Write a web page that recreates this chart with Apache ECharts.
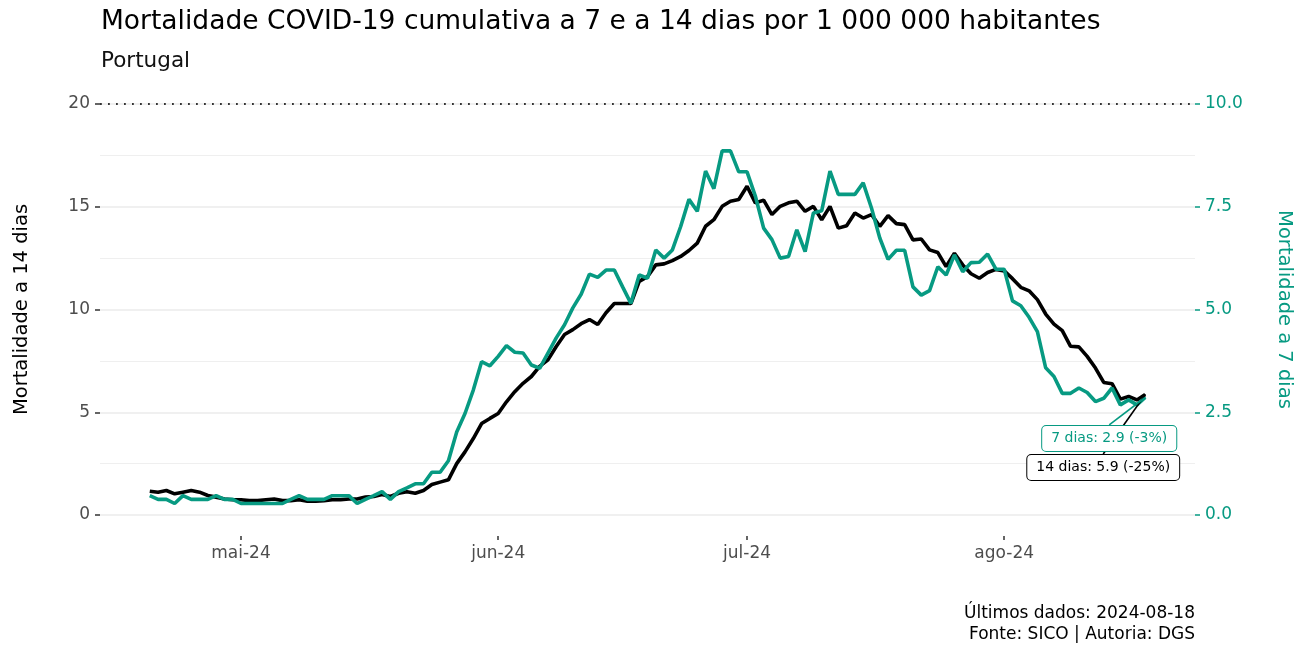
<!DOCTYPE html>
<html>
<head>
<meta charset="utf-8">
<script src="https://cdn.jsdelivr.net/npm/echarts@6/dist/echarts.min.js"></script>
<style>
  html, body { margin: 0; padding: 0; background: #fff; }
  #chart { width: 1311px; height: 649px; }
</style>
</head>
<body>
<div id="chart"></div>
<script>
// first day of data and first/last visible day of the axis
const startDay = '2024-04-20'
const axisMinDay = '2024-04-14'
const axisMaxDay = '2024-08-24'

// month ticks
const monthTicks = ['2024-05-01', '2024-06-01', '2024-07-01', '2024-08-01']
const monthLabels = ['mai-24', 'jun-24', 'jul-24', 'ago-24']

// 14 day cumulative mortality per 1 000 000 (left axis)
const mort14 = [
  1.16, 1.11, 1.19, 1.03, 1.11, 1.19, 1.11, 0.95, 0.87, 0.78,
  0.74, 0.74, 0.70, 0.70, 0.74, 0.78, 0.70, 0.70, 0.74, 0.67,
  0.67, 0.70, 0.74, 0.74, 0.78, 0.78, 0.87, 0.90, 1.00, 0.90,
  1.06, 1.13, 1.06, 1.19, 1.48, 1.60, 1.71, 2.50, 3.07, 3.72,
  4.45, 4.70, 4.94, 5.51, 6.00, 6.41, 6.74, 7.23, 7.55, 8.20,
  8.78, 9.02, 9.31, 9.51, 9.27, 9.84, 10.29, 10.29, 10.29, 11.37,
  11.60, 12.17, 12.22, 12.38, 12.58, 12.87, 13.23, 14.05, 14.37, 15.02,
  15.27, 15.35, 16.00, 15.19, 15.32, 14.62, 15.02, 15.19, 15.27, 14.78,
  15.02, 14.37, 15.02, 13.96, 14.08, 14.70, 14.45, 14.62, 14.05, 14.57,
  14.18, 14.13, 13.39, 13.43, 12.90, 12.77, 12.09, 12.74, 12.17, 11.74,
  11.52, 11.80, 11.95, 11.88, 11.50, 11.08, 10.91, 10.48, 9.78, 9.29,
  8.97, 8.21, 8.18, 7.72, 7.15, 6.45, 6.39, 5.64, 5.77, 5.60,
  5.86
]

// 7 day cumulative mortality per 1 000 000 (right axis)
const mort7 = [
  0.47, 0.38, 0.38, 0.28, 0.47, 0.38, 0.38, 0.38, 0.47, 0.38,
  0.38, 0.28, 0.28, 0.28, 0.28, 0.28, 0.28, 0.38, 0.47, 0.38,
  0.38, 0.38, 0.47, 0.47, 0.47, 0.28, 0.38, 0.47, 0.57, 0.38,
  0.57, 0.66, 0.76, 0.76, 1.04, 1.04, 1.32, 2.02, 2.47, 3.04,
  3.73, 3.63, 3.86, 4.12, 3.96, 3.94, 3.65, 3.57, 3.94, 4.31,
  4.63, 5.04, 5.37, 5.86, 5.78, 5.96, 5.96, 5.55, 5.15, 5.84,
  5.76, 6.45, 6.25, 6.45, 7.02, 7.68, 7.39, 8.37, 7.94, 8.86,
  8.86, 8.35, 8.35, 7.76, 6.98, 6.70, 6.25, 6.29, 6.94, 6.41,
  7.35, 7.40, 8.37, 7.80, 7.80, 7.80, 8.08, 7.47, 6.74, 6.22,
  6.44, 6.44, 5.55, 5.35, 5.46, 6.04, 5.84, 6.33, 5.92, 6.14,
  6.15, 6.35, 5.98, 5.98, 5.21, 5.09, 4.81, 4.46, 3.58, 3.37,
  2.96, 2.96, 3.09, 2.98, 2.76, 2.84, 3.09, 2.68, 2.80, 2.68,
  2.86
]

const endLabels = ['14 dias: 5.9 (-25%)', '7 dias: 2.9 (-3%)']

const titleText = 'Mortalidade COVID-19 cumulativa a 7 e a 14 dias por 1 000 000 habitantes'
const subtitleText = 'Portugal'
const captionText = 'Últimos dados: 2024-08-18\nFonte: SICO | Autoria: DGS'

const teal = '#079a82'
const font = 'DejaVu Sans'
const DAY = 86400000

function ts(s) {
  const p = s.split('-')
  return Date.UTC(+p[0], +p[1] - 1, +p[2])
}

const t0 = ts(startDay)
const data14 = mort14.map((v, i) => [t0 + i * DAY, v])
const data7 = mort7.map((v, i) => [t0 + i * DAY, v])
const tickValues = monthTicks.map(ts)
const last = mort14.length - 1

const chart = echarts.init(document.getElementById('chart'))

function endLabel(text, color) {
  return {
    show: true,
    position: 'inside',
    formatter: text,
    fontSize: 14,
    fontFamily: font,
    color: color,
    backgroundColor: '#fff',
    borderColor: color,
    borderWidth: 1,
    borderRadius: 4,
    padding: [6, 9, 5, 9]
  }
}

chart.setOption({
  backgroundColor: '#fff',
  animation: false,
  textStyle: { fontFamily: font },
  title: [{
    text: titleText,
    left: 101,
    top: 9,
    padding: 0,
    textStyle: { fontSize: 26.5, fontWeight: 'normal', color: '#000', fontFamily: font }
  }, {
    text: subtitleText,
    left: 101,
    top: 50,
    padding: 0,
    textStyle: { fontSize: 21.5, fontWeight: 'normal', color: '#111', fontFamily: font }
  }],
  graphic: [{
    type: 'text',
    x: 1195,
    y: 603,
    style: {
      text: captionText,
      align: 'right',
      fontSize: 17,
      lineHeight: 21,
      fontFamily: font,
      fill: '#000'
    }
  }],
  // grid 0 holds the lines, grid 1 is the slightly taller panel that carries the date axis
  grid: [{
    left: 100,
    right: 116,
    top: 104,
    bottom: 134
  }, {
    left: 100,
    right: 116,
    top: 104,
    bottom: 113
  }],
  xAxis: [{
    type: 'value',
    gridIndex: 0,
    min: ts(axisMinDay),
    max: ts(axisMaxDay),
    axisLine: { show: false },
    axisTick: { show: false },
    axisLabel: { show: false },
    splitLine: { show: false }
  }, {
    type: 'value',
    gridIndex: 1,
    min: ts(axisMinDay),
    max: ts(axisMaxDay),
    axisLine: { show: false },
    axisTick: {
      show: true,
      length: 4,
      customValues: tickValues,
      lineStyle: { color: '#333', width: 1.5 }
    },
    axisLabel: {
      customValues: tickValues,
      margin: 9,
      fontSize: 17,
      color: '#4d4d4d',
      formatter: (val) => monthLabels[tickValues.indexOf(val)] || ''
    },
    splitLine: { show: false }
  }],
  yAxis: [{
    type: 'value',
    gridIndex: 0,
    position: 'left',
    min: 0,
    max: 20,
    interval: 5,
    name: 'Mortalidade a 14 dias',
    nameLocation: 'middle',
    nameRotate: 90,
    nameGap: 68,
    nameTextStyle: { fontSize: 19.5, color: '#000', fontFamily: font },
    axisLine: { show: false },
    axisTick: { show: true, length: 5, lineStyle: { color: '#333', width: 1.5 } },
    axisLabel: { margin: 10, fontSize: 17, color: '#4d4d4d' },
    splitLine: { lineStyle: { color: '#ebebeb', width: 1.6 } },
    minorTick: { show: false, splitNumber: 2 },
    minorSplitLine: { show: true, lineStyle: { color: '#efefef', width: 1.2 } }
  }, {
    type: 'value',
    gridIndex: 0,
    position: 'right',
    min: 0,
    max: 10,
    interval: 2.5,
    name: 'Mortalidade a 7 dias',
    nameLocation: 'middle',
    nameRotate: -90,
    nameGap: 79,
    nameTextStyle: { fontSize: 19.5, color: teal, fontFamily: font },
    axisLine: { show: false },
    axisTick: { show: true, length: 5, lineStyle: { color: teal, width: 1.5 } },
    axisLabel: { margin: 10, fontSize: 17, color: teal, formatter: (v) => v.toFixed(1) },
    splitLine: { show: false }
  }, {
    type: 'value',
    gridIndex: 1,
    show: false
  }],
  series: [{
    name: '14 dias',
    type: 'line',
    xAxisIndex: 0,
    yAxisIndex: 0,
    showSymbol: false,
    lineStyle: { width: 3.6, color: '#000' },
    itemStyle: { color: '#000' },
    data: data14,
    markLine: {
      silent: true,
      symbol: 'none',
      label: { show: false },
      lineStyle: { type: [1.8, 6.2], color: '#333', width: 1.8 },
      data: [{ yAxis: 20 }]
    },
    z: 2
  }, {
    name: '7 dias',
    type: 'line',
    xAxisIndex: 0,
    yAxisIndex: 1,
    showSymbol: false,
    lineStyle: { width: 3.6, color: teal },
    itemStyle: { color: teal },
    data: data7,
    z: 3
  }, {
    // end label for the 14 day line
    type: 'scatter',
    xAxisIndex: 0,
    yAxisIndex: 0,
    symbolSize: 1,
    itemStyle: { color: '#000', opacity: 1 },
    data: [data14[last]],
    label: endLabel(endLabels[0], '#000'),
    labelLayout: { dx: -42, dy: 73 },
    labelLine: { show: true, lineStyle: { color: '#000', width: 1.6 } },
    zlevel: 1
  }, {
    // end label for the 7 day line, drawn above the other one
    type: 'scatter',
    xAxisIndex: 0,
    yAxisIndex: 1,
    symbolSize: 1,
    itemStyle: { color: teal, opacity: 1 },
    data: [data7[last]],
    label: endLabel(endLabels[1], teal),
    labelLayout: { dx: -36, dy: 41 },
    labelLine: { show: true, lineStyle: { color: teal, width: 1.6 } },
    zlevel: 2
  }]
})
</script>
</body>
</html>
